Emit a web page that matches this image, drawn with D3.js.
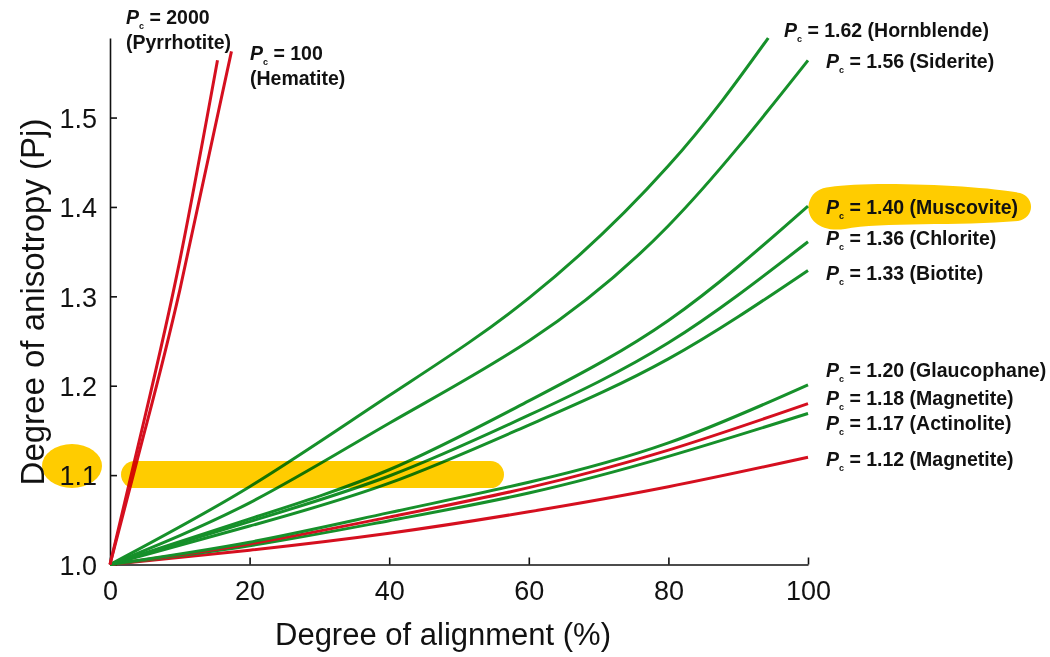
<!DOCTYPE html>
<html>
<head>
<meta charset="utf-8">
<script src="https://cdn.jsdelivr.net/npm/d3@7"></script>
<style>
  body { margin: 0; background: #fff; }
  svg { display: block; font-family: "Liberation Sans", Arial, sans-serif; }
  .lbl { font-size: 19.5px; font-weight: bold; fill: #111; }
  .tick text { font-size: 27px; fill: #111; }
</style>
</head>
<body>
<div id="chart"></div>
<script>
// Chart size
var svgWidth = 1050;
var svgHeight = 657;

// Degree of alignment (%) at which curves were read
var alignX = [0, 20, 40, 60, 80, 100];
var hornblendeX = [0, 20, 40, 60, 80, 94.3];
var pyrrhotiteX = [0, 5, 10, 15.4];
var hematiteX = [0, 5, 10, 17.4];

// Pj values
var hornblendePj = [1, 1.087, 1.189, 1.298, 1.446, 1.589];
var sideritePj = [1, 1.069, 1.158, 1.250, 1.379, 1.564];
var muscovitePj = [1, 1.051, 1.106, 1.183, 1.273, 1.401];
var chloritePj = [1, 1.048, 1.099, 1.167, 1.248, 1.361];
var biotitePj = [1, 1.043, 1.091, 1.156, 1.230, 1.329];
var glaucophanePj = [1, 1.025, 1.058, 1.092, 1.136, 1.201];
var magnetite118Pj = [1, 1.023, 1.053, 1.086, 1.128, 1.180];
var actinolitePj = [1, 1.021, 1.049, 1.080, 1.121, 1.169];
var magnetite112Pj = [1, 1.016, 1.035, 1.059, 1.087, 1.120];
var pyrrhotitePj = [1, 1.165, 1.340, 1.564];
var hematitePj = [1, 1.150, 1.307, 1.574];

// Axis ticks
var xTicks = [0, 20, 40, 60, 80, 100];
var yTicks = [1.0, 1.1, 1.2, 1.3, 1.4, 1.5];

var green = '#16902a';
var red = '#d50f1f';
var yellow = '#ffcc00';

var svg = d3.select('#chart')
    .append('svg')
    .attr('width', svgWidth)
    .attr('height', svgHeight);

var xScale = d3.scaleLinear().domain([0, 100]).range([110, 808]);
var yScale = d3.scaleLinear().domain([1, 1.589]).range([564.5, 38]);

// yellow blob behind the 1.1 label
svg.append('ellipse')
    .attr('cx', 72).attr('cy', 466)
    .attr('rx', 30).attr('ry', 22)
    .attr('fill', yellow);

// yellow highlight behind the muscovite label
svg.append('path')
    .attr('d', 'M830 187 C870 180 990 186 1020 193 C1036 198 1034 218 1018 221 C960 226 880 222 845 229 C815 233 804 214 810 200 C813 192 820 188 830 187 Z')
    .attr('fill', yellow);

// Axes
var xAxis = d3.axisBottom(xScale).tickValues(xTicks).tickSizeInner(-7).tickSizeOuter(0).tickPadding(16);
var yAxis = d3.axisLeft(yScale).tickValues(yTicks).tickFormat(d3.format('.1f')).tickSizeInner(-7).tickSizeOuter(0).tickPadding(13);

var gx = svg.append('g')
    .attr('transform', 'translate(0,' + yScale(1) + ')')
    .call(xAxis);
var gy = svg.append('g')
    .attr('transform', 'translate(' + xScale(0) + ',0)')
    .call(yAxis);

[gx, gy].forEach(function(g) {
    g.select('.domain').attr('stroke', '#111').attr('stroke-width', 1.6);
    g.selectAll('.tick line').attr('stroke', '#111').attr('stroke-width', 1.6);
    g.selectAll('.tick text').attr('font-family', null).attr('font-size', null);
});
gy.selectAll('.tick text').attr('dy', '0.36em');

// Curves
var line = d3.line()
    .x(d => xScale(d[0]))
    .y(d => yScale(d[1]))
    .curve(d3.curveNatural);

var series = [
    { xs: alignX, ys: magnetite112Pj, color: red },
    { xs: alignX, ys: actinolitePj, color: green },
    { xs: alignX, ys: magnetite118Pj, color: red },
    { xs: alignX, ys: glaucophanePj, color: green },
    { xs: alignX, ys: biotitePj, color: green },
    { xs: alignX, ys: chloritePj, color: green },
    { xs: alignX, ys: muscovitePj, color: green },
    { xs: alignX, ys: sideritePj, color: green },
    { xs: hornblendeX, ys: hornblendePj, color: green },
    { xs: pyrrhotiteX, ys: pyrrhotitePj, color: red },
    { xs: hematiteX, ys: hematitePj, color: red }
];

svg.append('g')
    .selectAll('path')
    .data(series)
    .enter()
    .append('path')
    .attr('d', s => line(s.xs.map((x, i) => [x, s.ys[i]])))
    .attr('fill', 'none')
    .attr('stroke', s => s.color)
    .attr('stroke-width', 3);

// yellow bar across 1.1, multiplied over the lines
svg.append('rect')
    .attr('x', 121).attr('y', yScale(1.1) - 14)
    .attr('width', 383).attr('height', 27)
    .attr('rx', 13.5)
    .attr('fill', yellow)
    .style('mix-blend-mode', 'multiply');

// Labels
function pcLabel(x, y, rest) {
    var t = svg.append('text').classed('lbl', true).attr('x', x).attr('y', y);
    t.append('tspan').style('font-style', 'italic').text('P');
    t.append('tspan').attr('font-size', 9).attr('dy', 5).text('c');
    t.append('tspan').attr('dy', -5).text(' = ' + rest);
    return t;
}

pcLabel(784, 37, '1.62 (Hornblende)');
pcLabel(826, 68, '1.56 (Siderite)');
pcLabel(826, 214, '1.40 (Muscovite)');
pcLabel(826, 245, '1.36 (Chlorite)');
pcLabel(826, 280, '1.33 (Biotite)');
pcLabel(826, 377, '1.20 (Glaucophane)');
pcLabel(826, 405, '1.18 (Magnetite)');
pcLabel(826, 430, '1.17 (Actinolite)');
pcLabel(826, 466, '1.12 (Magnetite)');

pcLabel(126, 24, '2000');
svg.append('text').classed('lbl', true).attr('x', 126).attr('y', 49).text('(Pyrrhotite)');
pcLabel(250, 60, '100');
svg.append('text').classed('lbl', true).attr('x', 250).attr('y', 85).text('(Hematite)');

// Axis titles
svg.append('text')
    .attr('x', 443)
    .attr('y', 645)
    .attr('text-anchor', 'middle')
    .attr('font-size', 31)
    .attr('fill', '#111')
    .text('Degree of alignment (%)');

svg.append('text')
    .attr('transform', 'translate(44,302) rotate(-90)')
    .attr('text-anchor', 'middle')
    .attr('font-size', 33)
    .attr('fill', '#111')
    .text('Degree of anisotropy (Pj)');
</script>
</body>
</html>
